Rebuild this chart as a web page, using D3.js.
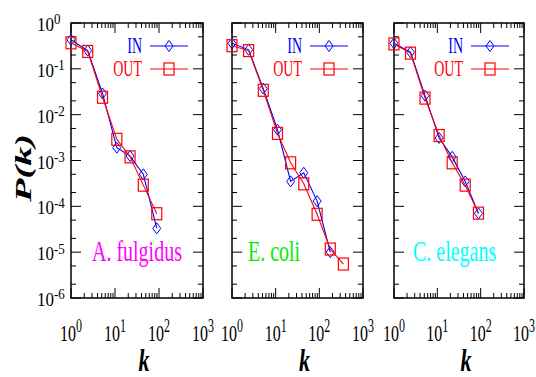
<!DOCTYPE html>
<html><head><meta charset="utf-8">
<script src="https://cdn.jsdelivr.net/npm/d3@7"></script>
<style>body{margin:0;background:#fff} svg{display:block}</style>
</head><body><svg id="c" width="536" height="377"></svg>
<script>
// ---- data ----
const kFul = [1, 2.4, 5.2, 11, 22, 44, 89];
const fulIn = [0.43, 0.25, 0.029, 0.0019, 0.00125, 0.0005, 0.000033];
const fulOut = [0.37, 0.24, 0.024, 0.0029, 0.0012, 0.00029, 0.000069];
const kEcoIn = [1, 2.4, 5.2, 11, 22, 44, 89, 178];
const ecoIn = [0.36, 0.26, 0.037, 0.0047, 0.00035, 0.00054, 0.00013, 0.00001];
const kEcoOut = [1, 2.4, 5.2, 11, 22, 44, 89, 178, 355];
const ecoOut = [0.32, 0.25, 0.034, 0.0039, 0.00089, 0.00031, 0.000067, 0.0000117, 0.0000055];
const kEle = [1, 2.4, 5.2, 11, 22, 44, 89];
const eleIn = [0.36, 0.23, 0.026, 0.0031, 0.0012, 0.00035, 0.00007];
const eleOut = [0.35, 0.22, 0.023, 0.0035, 0.00089, 0.00029, 0.000071];
const species = ["A. fulgidus", "E. coli", "C. elegans"];
const seriesNames = ["IN", "OUT"];
const xTickExps = [0, 1, 2, 3];
const yTickExps = [0, -1, -2, -3, -4, -5, -6];

// ---- layout / style ----
const panels = [
  {left: 71, right: 203, kIn: kFul, pIn: fulIn, kOut: kFul, pOut: fulOut, color: "#ff00ff", lx: 21},
  {left: 232, right: 363, kIn: kEcoIn, pIn: ecoIn, kOut: kEcoOut, pOut: ecoOut, color: "#00ee00", lx: 16},
  {left: 394, right: 524, kIn: kEle, pIn: eleIn, kOut: kEle, pOut: eleOut, color: "#00ffff", lx: 19}
];
const plotTop = 23, plotBottom = 298;
const colors = {IN: "#0000ff", OUT: "#ff0000"};
const serif = "'Liberation Serif','Times New Roman',serif";
const svg = d3.select("#c");
const y = d3.scaleLog().domain([1e-6, 1]).range([plotBottom, plotTop]);

function stext(g, x, yy, s, size, sy, anchor) {
  return g.append("text").attr("transform", `translate(${x},${yy}) scale(1,${sy})`)
    .attr("font-family", serif).attr("font-size", size).attr("text-anchor", anchor || "start");
}
function diamond(g, cx, cy, col) {
  g.append("path").attr("d", `M${cx},${cy-5.5}L${cx+4},${cy}L${cx},${cy+5.5}L${cx-4},${cy}Z`)
    .attr("fill", "none").attr("stroke", col).attr("stroke-width", 1);
}
function square(g, cx, cy, col) {
  g.append("rect").attr("x", cx-5).attr("y", cy-6).attr("width", 10).attr("height", 12)
    .attr("fill", "none").attr("stroke", col).attr("stroke-width", 1.2);
}

panels.forEach((p, i) => {
  const g = svg.append("g");
  const x = d3.scaleLog().domain([1, 1000]).range([p.left, p.right]);
  // ticks
  const xt = [];
  for (let e = 0; e < 3; e++) for (let m = 1; m <= 9; m++) xt.push(m * Math.pow(10, e));
  xt.push(1000);
  xt.forEach(v => {
    const L = (Math.abs(Math.log10(v) - Math.round(Math.log10(v))) < 1e-9) ? 10 : 5;
    g.append("line").attr("x1", x(v)).attr("x2", x(v)).attr("y1", plotBottom).attr("y2", plotBottom - L).attr("stroke", "#000");
    g.append("line").attr("x1", x(v)).attr("x2", x(v)).attr("y1", plotTop).attr("y2", plotTop + L).attr("stroke", "#000");
  });
  const yt = [];
  for (let e = -6; e < 0; e++) [1, 2, 5].forEach(m => yt.push(m * Math.pow(10, e)));
  yt.push(1);
  yt.forEach(v => {
    const L = (Math.abs(Math.log10(v) - Math.round(Math.log10(v))) < 1e-9) ? 10 : 5;
    g.append("line").attr("x1", p.left).attr("x2", p.left + L).attr("y1", y(v)).attr("y2", y(v)).attr("stroke", "#000");
    g.append("line").attr("x1", p.right).attr("x2", p.right - L).attr("y1", y(v)).attr("y2", y(v)).attr("stroke", "#000");
  });
  g.append("rect").attr("x", p.left).attr("y", plotTop).attr("width", p.right - p.left).attr("height", plotBottom - plotTop)
    .attr("fill", "none").attr("stroke", "#000").attr("stroke-width", 1.5);

  // x tick labels
  xTickExps.forEach(e => {
    const t = stext(svg, x(Math.pow(10, e)), 341, "", 16, 1.5, "middle");
    t.append("tspan").text("10");
    t.append("tspan").attr("dy", -5.7).attr("font-size", 12).text(e);
  });
  // x axis label
  stext(svg, (p.left + p.right) / 2 + 7, 371, "", 22, 1.4, "middle")
    .attr("font-weight", "bold").attr("font-style", "italic").text("k");

  // series
  const line = d3.line().x(d => x(d[0])).y(d => y(d[1]));
  const dIn = p.kIn.map((k, j) => [k, p.pIn[j]]);
  const dOut = p.kOut.map((k, j) => [k, p.pOut[j]]);
  g.append("path").attr("d", line(dIn)).attr("fill", "none").attr("stroke", colors.IN).attr("stroke-width", 1.1);
  dIn.forEach(d => diamond(g, x(d[0]), y(d[1]), colors.IN));
  g.append("path").attr("d", line(dOut)).attr("fill", "none").attr("stroke", colors.OUT).attr("stroke-width", 1.1);
  dOut.forEach(d => square(g, x(d[0]), y(d[1]), colors.OUT));

  // legend
  seriesNames.forEach((s, j) => {
    const ly = 46 + j * 23;
    stext(g, p.right - 61, ly + 7, s, 14, 1.6, "end").attr("fill", colors[s]).text(s);
    g.append("line").attr("x1", p.right - 53).attr("x2", p.right - 15).attr("y1", ly).attr("y2", ly)
      .attr("stroke", colors[s]).attr("stroke-width", 1.2);
    if (s === "IN") diamond(g, p.right - 34, ly, colors[s]); else square(g, p.right - 34, ly, colors[s]);
  });

  // species label
  stext(g, p.left + p.lx, 261, "", 20, 1.45, "start").attr("fill", p.color).text(species[i]);
});

// y tick labels (first panel)
yTickExps.forEach(e => {
  const t = stext(svg, 37, y(Math.pow(10, e)) + 8, "", 17, 1.1, "start");
  t.append("tspan").text("10");
  t.append("tspan").attr("dy", -6).attr("font-size", 13).text(e);
});
// y axis label
svg.append("text").attr("transform", "translate(31,168) rotate(-90) scale(1.6,1)")
  .attr("font-family", serif).attr("font-size", 24).attr("font-weight", "bold").attr("font-style", "italic")
  .attr("text-anchor", "middle").text("P(k)");
</script></body></html>
